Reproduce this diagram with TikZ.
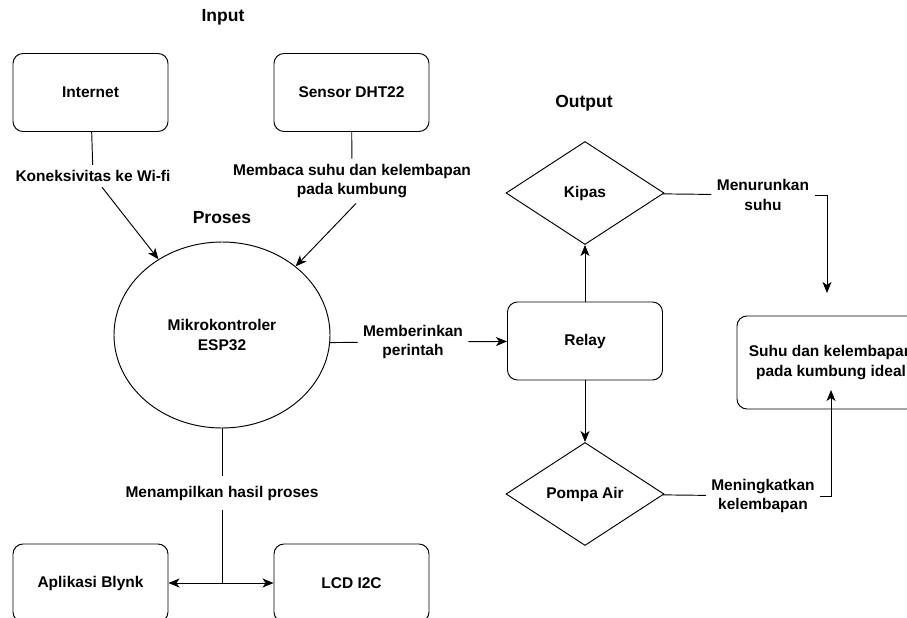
\documentclass[tikz,border=0pt]{standalone}
\usepackage{fontspec}
\setmainfont{Liberation Sans}
\usetikzlibrary{positioning,arrows.meta,shapes.geometric}
\tikzset{
	flow/.style={>={Stealth[length=11pt,width=9pt,inset=3pt]},line width=0.95pt,
		font=\fontsize{15.5}{19.5}\selectfont\bfseries},
	unit/.style={draw,rounded corners=10pt,minimum width=155pt,minimum height=78pt,align=center},
	mcu/.style={draw,ellipse,minimum width=216pt,minimum height=186pt,inner sep=0pt,align=center},
	actuator/.style={draw,diamond,minimum width=158pt,minimum height=103pt,inner sep=0pt},
	lbl/.style={align=center,inner sep=5pt},
	heading/.style={font=\fontsize{17.5}{21}\selectfont\bfseries}
}

\begin{document}
\begin{tikzpicture}[flow,x=1pt,y=-1pt]
	\useasboundingbox (0,0) rectangle (907,618);
	\clip (0,0) rectangle (907,618);
	
	\node[heading] (tin) at (223,17) {Input};
	\node[heading] (tproc) at (222,218) {Proses};
	\node[heading] (tout) at (584,103) {Output};
	
	\node[unit] (net) at (90.5,92.5) {Internet};
	\node[unit] (dht) at (351.5,92.5) {Sensor DHT22};
	\node[mcu] (esp) at (222,335) {Mikrokontroler\\ESP32};
	\node[unit] (blynk) at (90.5,583) {Aplikasi Blynk};
	\node[unit] (lcd) at (351.5,583) {LCD I2C};
	\node[unit] (relay) at (585,341) {Relay};
	\node[actuator] (kipas) at (585,193) {Kipas};
	\node[actuator] (pompa) at (585,494) {Pompa Air};
	\node[unit,minimum width=188pt,minimum height=93pt] (ideal) at (831,362.5) {Suhu dan kelembapan\\pada kumbung ideal};
	
	% edge labels
	\node[lbl] (lwifi) at (93,176) {Koneksivitas ke Wi-fi};
	\node[lbl] (lread) at (352,181) {Membaca suhu dan kelembapan\\pada kumbung};
	\node[lbl] (lcmd) at (413,342) {Memberinkan\\perintah};
	\node[lbl,inner ysep=9pt] (lshow) at (222,493) {Menampilkan hasil proses};
	\node[lbl] (lcool) at (763,195) {Menurunkan\\suhu};
	\node[lbl] (lwarm) at (763,496) {Meningkatkan\\kelembapan};
	\coordinate (split) at (222,583);
	\coordinate (coolend) at (827,293);
	\coordinate (warmend) at (831,390);
	
	\path (net) edge (lwifi) (dht) edge (lread) (esp.-4) edge (lcmd)
		(kipas) edge (lcool) (pompa) edge (lwarm) (esp) edge (lshow) (lshow) edge (split);
	\path[->] ([xshift=9pt]lwifi.south) edge (esp.130) ([xshift=4pt]lread.south) edge (esp.43)
		(lcmd) edge (relay) (relay) edge (kipas) (relay) edge (pompa)
		(split) edge (blynk) (split) edge (lcd);
	\draw[->] (lcool.east) -| (coolend);
	\draw[->] (lwarm.east) -| (warmend);
\end{tikzpicture}
\end{document}
